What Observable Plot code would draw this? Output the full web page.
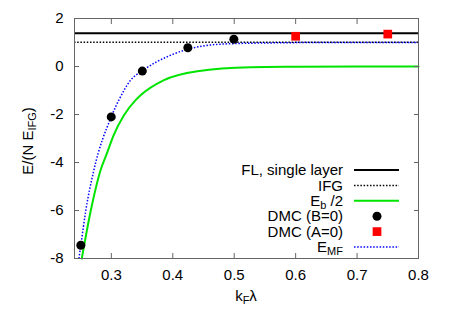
<!DOCTYPE html>
<html><head><meta charset="utf-8">
<script src="https://cdn.jsdelivr.net/npm/d3@7"></script>
<script src="https://cdn.jsdelivr.net/npm/@observablehq/plot@0.6"></script>
<style>body{margin:0;background:#fff}#chart{width:463px;height:324px}</style>
</head><body><div id="chart"></div>
<script>
// Horizontal reference levels
const flLevel = 1.39;   // FL, single layer
const ifgLevel = 1.01;  // IFG
// DMC (B=0)
const dmcBx = [0.2503, 0.2998, 0.3504, 0.4245, 0.4994];
const dmcBy = [-7.45, -2.10, -0.19, 0.78, 1.14];
// DMC (A=0)
const dmcAx = [0.60, 0.75];
const dmcAy = [1.26, 1.35];
// E_b / 2
const ebX = [0.2519, 0.2665, 0.2824, 0.2938, 0.3031, 0.3200, 0.3395, 0.3476, 0.3856, 0.4400, 0.5270, 0.6000, 0.7000, 0.8000];
const ebY = [-8.0, -6.0, -4.32, -3.55, -2.9, -2.05, -1.40, -1.20, -0.57, -0.20, -0.03, -0.01, 0.0, 0.0];
// E_MF
const emfX = [0.2472, 0.2503, 0.2584, 0.2715, 0.2998, 0.3122, 0.3313, 0.3504, 0.3965, 0.4245, 0.4780, 0.5500, 0.6500, 0.8000];
const emfY = [-8.0, -7.45, -6.0, -4.32, -2.10, -1.40, -0.57, -0.18, 0.47, 0.72, 0.93, 0.98, 1.0, 1.0];
// ticks
const xTicks = [0.3, 0.4, 0.5, 0.6, 0.7, 0.8];
const yTicks = [-8, -6, -4, -2, 0, 2];

const zip = (xs, ys) => xs.map((x, i) => ({x, y: ys[i]}));
const dmcB = zip(dmcBx, dmcBy), dmcA = zip(dmcAx, dmcAy);
const eb = zip(ebX, ebY), emf = zip(emfX, emfY);

const FONT = "'Liberation Sans', Arial, Helvetica, sans-serif";
const frameColor = "#666";
const green = "#00e400", blue = "#0000ff", red = "#ff0000";
const dots = "1.5,1.7";

const chart = Plot.plot({
  width: 463, height: 324,
  marginLeft: 74, marginRight: 45, marginTop: 18, marginBottom: 66,
  style: {fontFamily: FONT, fontSize: "15px", color: "#000", background: "#fff", overflow: "visible"},
  x: {domain: [0.24, 0.8]},
  y: {domain: [-8, 2]},
  marks: [
    Plot.ruleY([flLevel], {stroke: "#000", strokeWidth: 2}),
    Plot.ruleY([ifgLevel], {stroke: "#000", strokeWidth: 1.5, strokeDasharray: dots, strokeLinecap: "butt"}),
    Plot.line(eb, {x: "x", y: "y", stroke: green, strokeWidth: 2, curve: "monotone-x"}),
    Plot.line(emf, {x: "x", y: "y", stroke: blue, strokeWidth: 1.5, strokeDasharray: dots, strokeLinecap: "butt", curve: "monotone-x"}),
    Plot.dot(dmcB, {x: "x", y: "y", r: 4.5, fill: "#000"}),
    Plot.dot(dmcA, {x: "x", y: "y", r: 4.9, symbol: "square", fill: red}),
    Plot.frame({stroke: frameColor}),
    Plot.axisX(xTicks, {anchor: "bottom", tickSize: 0, tickPadding: 11, tickFormat: d => d.toFixed(1), label: null}),
    Plot.axisX(xTicks, {anchor: "bottom", tickSize: -5, stroke: frameColor, tickFormat: () => "", label: null}),
    Plot.axisX(xTicks, {anchor: "top", tickSize: -5, stroke: frameColor, tickFormat: () => "", label: null}),
    Plot.axisY(yTicks, {anchor: "left", tickSize: 0, tickPadding: 11, tickFormat: d => String(d), label: null}),
    Plot.axisY(yTicks, {anchor: "left", tickSize: -5, stroke: frameColor, tickFormat: () => "", label: null}),
    Plot.axisY(yTicks, {anchor: "right", tickSize: -5, stroke: frameColor, tickFormat: () => "", label: null})
  ]
});
document.getElementById("chart").appendChild(chart);

const svg = d3.select(chart);
function richText(g, parts) {
  parts.forEach(p => {
    const t = g.append("tspan").text(p.t);
    if (p.sub) t.attr("dy", 3).attr("font-size", 11);
    if (p.up) t.attr("dy", -3);
  });
}
// Axis labels
const yl = svg.append("text").attr("transform", "translate(28,141) rotate(-90)")
  .attr("text-anchor", "middle").attr("dy", "0.35em").attr("font-family", FONT).attr("font-size", 15).attr("fill", "#000");
richText(yl, [{t: "E/(N E"}, {t: "IFG", sub: true}, {t: ")", up: true}]);
const xl = svg.append("text").attr("x", 246).attr("y", 301)
  .attr("text-anchor", "middle").attr("font-family", FONT).attr("font-size", 15).attr("fill", "#000");
richText(xl, [{t: "k"}, {t: "F", sub: true}, {t: "λ", up: true}]);

// Legend
const legendItems = [
  {parts: [{t: "FL, single layer"}], kind: "line", stroke: "#000", w: 2, dash: null},
  {parts: [{t: "IFG"}], kind: "line", stroke: "#000", w: 1.5, dash: dots},
  {parts: [{t: "E"}, {t: "b", sub: true}, {t: " /2", up: true}], kind: "line", stroke: green, w: 2, dash: null},
  {parts: [{t: "DMC (B=0)"}], kind: "dot"},
  {parts: [{t: "DMC (A=0)"}], kind: "square"},
  {parts: [{t: "E"}, {t: "MF", sub: true}], kind: "line", stroke: blue, w: 1.5, dash: dots}
];
const lg = svg.append("g").attr("font-family", FONT).attr("font-size", 15);
legendItems.forEach((it, i) => {
  const y = 170 + i * 15.4;
  const t = lg.append("text").attr("x", 343).attr("y", y).attr("dy", "0.35em").attr("text-anchor", "end").attr("fill", "#000");
  richText(t, it.parts);
  if (it.kind === "line") {
    const l = lg.append("line").attr("x1", 354).attr("x2", 399).attr("y1", y).attr("y2", y)
      .attr("stroke", it.stroke).attr("stroke-width", it.w);
    if (it.dash) l.attr("stroke-dasharray", it.dash);
  } else if (it.kind === "dot") {
    lg.append("circle").attr("cx", 377).attr("cy", y).attr("r", 4.5).attr("fill", "#000");
  } else {
    lg.append("rect").attr("x", 377 - 4.35).attr("y", y - 4.35).attr("width", 8.7).attr("height", 8.7).attr("fill", red);
  }
});
</script>
</body></html>
